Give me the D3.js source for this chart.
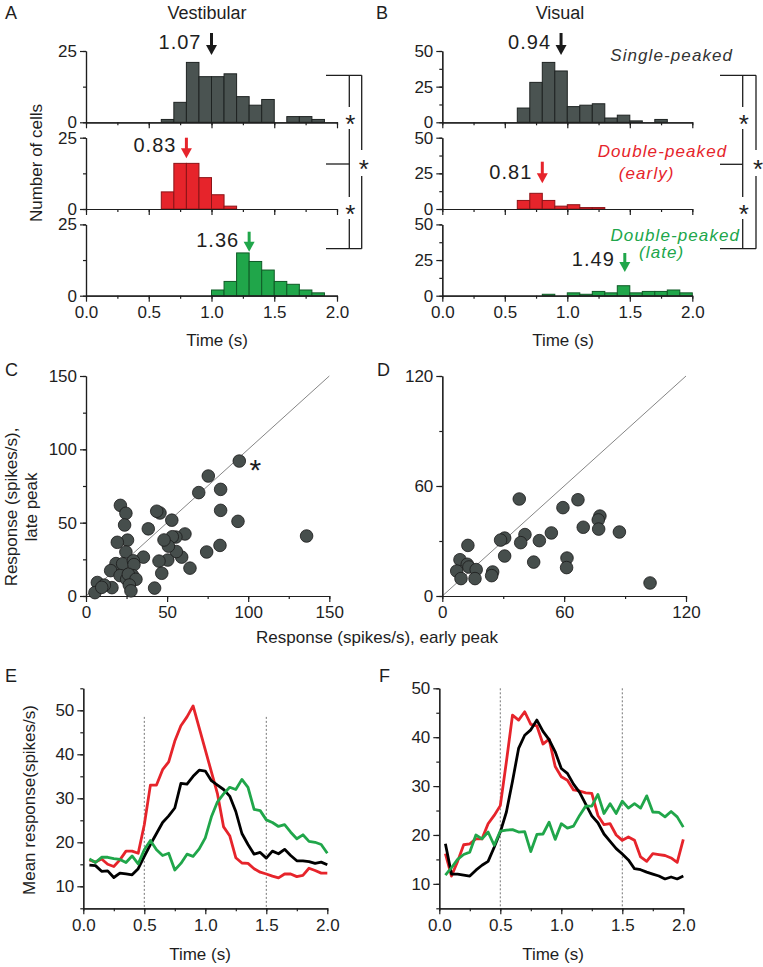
<!DOCTYPE html>
<html><head><meta charset="utf-8">
<script src="https://cdn.jsdelivr.net/npm/d3@7"></script>
<style>
body{margin:0;background:#fff;}
svg{display:block;}
</style></head><body>
<svg id="fig" width="763" height="967"></svg>
<script>
// ---------------- DATA ----------------
const binEdges = [0.0,0.1,0.2,0.3,0.4,0.5,0.6,0.7,0.8,0.9,1.0,1.1,1.2,1.3,1.4,1.5,1.6,1.7,1.8,1.9,2.0];
const vestSingle = [0,0,0,0,0,0,1,7,21,16,16,17,9,6,8,0,2,2,1,0];
const vestEarly  = [0,0,0,0,0,0,6,16,16,11,5,1,0,0,0,0,0,0,0,0];
const vestLate   = [0,0,0,0,0,0,0,0,0,0,2,5,15,12,9,5,4,2,1,0];
const visSingle  = [0,0,0,0,0,0,10,28,42,36,11,12,13,3,5,1,0,2,0,0];
const visEarly   = [0,0,0,0,0,0,6,11,6,2,3,1,1,0,0,0,0,0,0,0];
const visLate    = [0,0,0,0,0,0,0,0,1,0,2,1,3,2,7,2,3,3,4,2];
const vestMeanLabels = ["1.07","0.83","1.36"];
const visMeanLabels  = ["0.94","0.81","1.49"];
const vestArrowAt = [1.0, 0.8, 1.3];
const visArrowAt  = [0.95, 0.8, 1.46];
const histXTicks = [0,0.5,1.0,1.5,2.0];
const histXMinorTicks = [0,0.25,0.5,0.75,1.0,1.25,1.5,1.75,2.0];
const vestYTicks = [0,25];
const vestYMinorTicks = [0,12.5,25];
const visYTicks = [0,25,50];
const visYMinorTicks = [0,12.5,25,37.5,50];
const groupNames = ["Single-peaked","Double-peaked","(early)","Double-peaked","(late)"];

// scatter: [early peak, late peak]
const vestScatter = [[94.5,92],[75.4,81.8],[69.5,70.5],[83,72.7],[83,58.4],[93.7,50.9],[136,40.9],[82.6,34.5],[74.4,30],[64.1,19],[61,42.3],[59,26.5],[55.7,30.3],[55.4,40.2],[53.2,40.4],[52.9,51.7],[50.8,34],[50.4,24.5],[48.1,38.2],[45.6,56.6],[43.6,57.8],[45,23.8],[46.7,15.5],[42.3,5.4],[38.4,45.8],[35.4,26.5],[21.2,61.8],[24.6,56.4],[23.8,48.4],[25.6,38.1],[19.3,36.6],[24.6,30],[18.5,22.1],[22.6,22],[15.2,17.3],[21,13.9],[16,5.7],[29.2,24],[29.6,21.4],[25.1,11.4],[28.8,13.9],[26.1,14.8],[30.8,11.4],[26.7,7.5],[27.7,3.5],[7,9.2],[5.5,2.3],[11.3,7.4],[9.7,5.9]];
const visScatter = [[37.9,52.9],[66.8,52.5],[59.4,48.2],[77.6,43.6],[76.8,41.5],[69.4,37.5],[77,36.5],[87.2,34.9],[53.7,34.4],[40.7,33.5],[30.7,31.6],[28.7,30.5],[38.6,29.1],[47.8,30.2],[12.6,27.6],[30.7,21.8],[45,18.5],[61.4,20.7],[61.2,15.5],[8.7,19.8],[12.3,17.3],[13.1,15.8],[7.1,13.6],[9.2,9.5],[16.7,14.4],[16.1,9.5],[24.8,13.1],[24.3,11.1],[102.3,7.1]];
const vestScatterTicks = [0,50,100,150];
const vestScatterMinor = [0,25,50,75,100,125,150];
const visScatterTicks = [0,60,120];
const visScatterMinor = [0,30,60,90,120];

// time courses
const timePts = [0.05,0.10,0.15,0.20,0.25,0.30,0.35,0.40,0.45,0.50,0.55,0.60,0.65,0.70,0.75,0.80,0.85,0.90,0.95,1.00,1.05,1.10,1.15,1.20,1.25,1.30,1.35,1.40,1.45,1.50,1.55,1.60,1.65,1.70,1.75,1.80,1.85,1.90,1.95,2.00];
const vestRed   = [16,15.5,16.2,15,14.5,16,18,18,17.5,24,33,33,36.5,38.3,43,46.5,48.5,51,46,41,36,31,23.5,21.5,16.5,15.3,15.2,14,13.2,12.8,12.3,11.9,12.8,12.8,12.2,12.5,14.1,13.6,13,13];
const vestBlack = [14.8,14.7,13.4,13.5,12,13,12.8,12.6,14,16.8,19.5,22,24.5,26,27.8,33.4,33.2,35,36.4,36.2,34,33,32,30.5,27,22,19.5,17.3,17.7,16.4,18,17.4,18.4,17,15.8,15.8,15.6,15.2,15.5,14.9];
const vestGreen = [16.2,15.4,16.6,16.6,16.3,16.1,15.4,16.9,15.1,18.3,20.4,18.3,17,17.5,13.7,15.2,17.3,16.8,18.5,21,25.8,29.2,31,32.5,32,34.3,32.5,27.5,27.2,25.1,24.5,23.6,24,22.3,20.8,21.7,20.2,20,19.5,17.5];
const visRed    = [16.2,11.6,14.6,18,18.2,19.2,19.2,22.3,24,26,35,44.5,43.5,45.2,42.6,42.3,38.6,39.6,34,31.9,31.2,29.2,29,28.6,28.5,24,22.1,22.3,20,18.9,19.6,18.9,15.5,14.6,16.2,16,15.8,15.3,14.4,19.1];
const visBlack  = [18.2,12,12,11.8,11.6,12.8,13.8,14.6,17.5,20.6,24.7,31,37.7,40.4,41.5,43.5,41.2,39.5,37,33.6,32.6,30.4,28.7,26.3,23.9,22.5,20.2,18.7,17.2,16.1,14.9,13.1,12.9,12.4,12,11.6,11,11.4,11,11.6];
const visGreen  = [11.8,13.3,15,16,16.5,20,19.2,20.6,17.9,20.8,21,21.1,20.6,20.7,16.6,20.1,20.2,22.6,19.1,22.3,21.4,21.8,24,25.9,25.9,28.3,24.4,26.4,24.4,26.9,25.5,26.4,25.5,28,24.7,24.6,23.7,24.8,23.7,21.6];
const lineXTicks = [0,0.5,1.0,1.5,2.0];
const lineXMinor = [0,0.25,0.5,0.75,1.0,1.25,1.5,1.75,2.0];
const vestLineYTicks = [10,20,30,40,50];
const vestLineYMinor = [5,10,15,20,25,30,35,40,45,50,55];
const visLineYTicks = [10,20,30,40,50];
const visLineYMinor = [5,10,15,20,25,30,35,40,45,50];
const stimMarks = [0.5,1.5];

// ---------------- STYLE ----------------
const FONT = '"Liberation Sans", Arial, Helvetica, sans-serif';
const INK = "#1e1e1e";
const GRAY = "#4a5351", GRAY_S = "#1e2322";
const RED = "#e6242b", RED_S = "#8c1317";
const GREEN = "#20a64a", GREEN_S = "#0f5a26";
const svg = d3.select("#fig").attr("font-family", FONT);

function axis(gen, tx, ty, fs) {
  const a = svg.append("g").attr("transform", `translate(${tx},${ty})`).call(gen);
  a.attr("font-family", FONT).attr("font-size", fs || 17);
  a.selectAll(".domain,.tick line").attr("stroke", INK).attr("stroke-width", 1.2);
  a.selectAll("text").attr("fill", INK);
  return a;
}
function text(x, y, s, o = {}) {
  const t = svg.append("text").attr("x", x).attr("y", y).text(s)
    .attr("font-size", o.size || 18).attr("fill", o.fill || INK)
    .attr("text-anchor", o.anchor || "start");
  if (o.italic) t.attr("font-style", "italic");
  if (o.ls) t.attr("letter-spacing", o.ls);
  if (o.rot) t.attr("transform", `rotate(-90,${x},${y})`);
  return t;
}

// ---------------- HISTOGRAMS (A, B) ----------------
const HIST_BASE = [122.3, 209, 295.7];
const HIST_H = 71.3;
function histColumn(xr, yMax, yTicks, yMinor, counts, arrowAt, labels, arrowLayout) {
  const x = d3.scaleLinear().domain([0, 2]).range(xr);
  const fills = [[GRAY, GRAY_S, "#1a1a1a"], [RED, RED_S, RED], [GREEN, GREEN_S, GREEN]];
  counts.forEach((c, i) => {
    const base = HIST_BASE[i];
    const y = d3.scaleLinear().domain([0, yMax]).range([base, base - HIST_H]);
    const bins = c.map((v, j) => ({ v, x0: binEdges[j], x1: binEdges[j + 1] })).filter(d => d.v > 0);
    svg.append("g").selectAll("rect").data(bins).join("rect")
      .attr("x", d => x(d.x0)).attr("width", d => x(d.x1) - x(d.x0))
      .attr("y", d => y(d.v)).attr("height", d => base - y(d.v))
      .attr("fill", fills[i][0]).attr("stroke", fills[i][1]).attr("stroke-width", 1);
    axis(d3.axisBottom(x).tickValues(histXMinorTicks).tickSize(3).tickFormat("").tickSizeOuter(0), 0, base);
    axis(d3.axisBottom(x).tickValues(histXTicks).tickSize(6).tickPadding(4)
      .tickFormat(i === 2 ? d3.format(".1f") : "").tickSizeOuter(0), 0, base);
    axis(d3.axisLeft(y).tickValues(yMinor).tickSize(3).tickFormat("").tickSizeOuter(0), xr[0], 0);
    axis(d3.axisLeft(y).tickValues(yTicks).tickSize(6).tickPadding(3).tickFormat(d3.format("d")).tickSizeOuter(0), xr[0], 0);
    // arrow
    const L = arrowLayout[i];
    const ax = x(arrowAt[i]);
    const col = fills[i][2];
    svg.append("line").attr("x1", ax).attr("x2", ax).attr("y1", L.top).attr("y2", L.tip - 8)
      .attr("stroke", col).attr("stroke-width", 3);
    svg.append("path").attr("d", `M${ax - 5.5},${L.tip - 10}L${ax + 5.5},${L.tip - 10}L${ax},${L.tip}Z`).attr("fill", col);
    text(ax - 10, L.lab, labels[i], { size: 20, anchor: "end", ls: 1 });
  });
}
histColumn([86, 337], 25, vestYTicks, vestYMinorTicks, [vestSingle, vestEarly, vestLate], vestArrowAt, vestMeanLabels,
  [{ top: 33, tip: 55, lab: 49 }, { top: 137.7, tip: 158.3, lab: 152 }, { top: 231.7, tip: 251.7, lab: 246.5 }]);
histColumn([442.3, 692.3], 50, visYTicks, visYMinorTicks, [visSingle, visEarly, visLate], visArrowAt, visMeanLabels,
  [{ top: 33, tip: 55, lab: 49 }, { top: 161.7, tip: 183.3, lab: 179 }, { top: 253, tip: 272, lab: 265.5 }]);

// significance brackets
function bracket(xl, xi, xo, yt, ym, yb, starsInner, starOuter) {
  const g = svg.append("g").attr("stroke", INK).attr("stroke-width", 1.3).attr("fill", "none");
  g.append("line").attr("x1", xl).attr("x2", xo).attr("y1", yt).attr("y2", yt);
  g.append("line").attr("x1", xl).attr("x2", xi).attr("y1", ym).attr("y2", ym);
  g.append("line").attr("x1", xl).attr("x2", xo).attr("y1", yb).attr("y2", yb);
  const seg = (x, a, b) => g.append("line").attr("x1", x).attr("x2", x).attr("y1", a).attr("y2", b);
  seg(xi, yt, starsInner[0] - 11); seg(xi, starsInner[0] + 11, starsInner[1] - 11); seg(xi, starsInner[1] + 11, yb);
  seg(xo, yt, starOuter - 13); seg(xo, starOuter + 13, yb);
  const star = (x, y) => text(x, y + 14.5, "*", { size: 26, anchor: "middle" });
  star(xi + 1, starsInner[0]); star(xi + 1, starsInner[1]); star(xo + 2, starOuter);
}
bracket(326, 349.3, 361.7, 75.3, 164, 248.7, [118, 208], 163);
bracket(720, 742.7, 756, 75.3, 164.3, 248.7, [118, 208], 163);

text(671.7, 61, groupNames[0], { size: 17, italic: true, anchor: "middle", fill: "#333", ls: 1.1 });
text(662.5, 157, groupNames[1], { size: 17, italic: true, anchor: "middle", fill: RED, ls: 1.1 });
text(646.7, 179, groupNames[2], { size: 17, italic: true, anchor: "middle", fill: RED, ls: 1.1 });
text(675.3, 240.7, groupNames[3], { size: 17, italic: true, anchor: "middle", fill: GREEN, ls: 1.1 });
text(661.7, 258, groupNames[4], { size: 17, italic: true, anchor: "middle", fill: GREEN, ls: 1.1 });

text(5, 19, "A"); text(376, 19, "B");
text(207, 19, "Vestibular", { anchor: "middle" });
text(560, 19, "Visual", { anchor: "middle" });
text(42, 163, "Number of cells", { anchor: "middle", rot: true, size: 17 });
text(217, 346, "Time (s)", { anchor: "middle", size: 17 });
text(563, 346, "Time (s)", { anchor: "middle", size: 17 });

// ---------------- SCATTER (C, D) ----------------
function scatter(xr, max, data, ticks, minor) {
  const x = d3.scaleLinear().domain([0, max]).range(xr);
  const y = d3.scaleLinear().domain([0, max]).range([596, 376]);
  svg.append("line").attr("x1", x(0)).attr("y1", y(0)).attr("x2", x(max)).attr("y2", y(max))
    .attr("stroke", "#777").attr("stroke-width", 0.9);
  axis(d3.axisBottom(x).tickValues(minor).tickSize(3).tickFormat("").tickSizeOuter(0), 0, 596);
  axis(d3.axisBottom(x).tickValues(ticks).tickSize(6).tickPadding(4).tickFormat(d3.format("d")).tickSizeOuter(0), 0, 596);
  axis(d3.axisLeft(y).tickValues(minor).tickSize(3).tickFormat("").tickSizeOuter(0), xr[0], 0);
  axis(d3.axisLeft(y).tickValues(ticks).tickSize(6).tickPadding(3).tickFormat(d3.format("d")).tickSizeOuter(0), xr[0], 0);
  svg.append("g").selectAll("circle").data(data).join("circle")
    .attr("cx", d => x(d[0])).attr("cy", d => y(d[1])).attr("r", 6.3)
    .attr("fill", "#464e4c").attr("stroke", "#1a1a1a").attr("stroke-width", 0.8);
  return { x, y };
}
const sc = scatter([86, 329.3], 150, vestScatter, vestScatterTicks, vestScatterMinor);
scatter([442.3, 686], 120, visScatter, visScatterTicks, visScatterMinor);
text(sc.x(vestScatter[0][0]) + 16, sc.y(vestScatter[0][1]) + 19, "*", { size: 30, anchor: "middle" });
text(5, 376, "C"); text(377, 376, "D");
text(17, 507, "Response (spikes/s),", { anchor: "middle", rot: true, size: 17 });
text(37, 507, "late peak", { anchor: "middle", rot: true, size: 17 });
text(377, 643, "Response (spikes/s), early peak", { anchor: "middle", size: 17 });

// ---------------- TIME COURSES (E, F) ----------------
function linePanel(xr, ydom, series, yTicks, yMinor, dotTop) {
  const x = d3.scaleLinear().domain([0, 2]).range(xr);
  const y = d3.scaleLinear().domain(ydom).range([908.3, 688.3]);
  stimMarks.forEach(t => svg.append("line").attr("x1", x(t)).attr("x2", x(t))
    .attr("y1", y(dotTop)).attr("y2", y(ydom[0])).attr("stroke", "#666").attr("stroke-width", 0.9)
    .attr("stroke-dasharray", "2,2"));
  axis(d3.axisBottom(x).tickValues(lineXMinor).tickSize(3).tickFormat("").tickSizeOuter(0), 0, 908.3);
  axis(d3.axisBottom(x).tickValues(lineXTicks).tickSize(6).tickPadding(5).tickFormat(d3.format(".1f")).tickSizeOuter(0), 0, 908.3);
  axis(d3.axisLeft(y).tickValues(yMinor).tickSize(3).tickFormat("").tickSizeOuter(0), xr[0], 0);
  axis(d3.axisLeft(y).tickValues(yTicks).tickSize(6).tickPadding(3).tickFormat(d3.format("d")).tickSizeOuter(0), xr[0], 0);
  const line = d3.line().x((d, i) => x(timePts[i])).y(d => y(d));
  series.forEach(s => svg.append("path").datum(s.v).attr("d", line).attr("fill", "none")
    .attr("stroke", s.c).attr("stroke-width", 2.8).attr("stroke-linejoin", "round"));
}
linePanel([83.3, 327.3], [5, 55], [{ v: vestRed, c: RED }, { v: vestBlack, c: "#000" }, { v: vestGreen, c: GREEN }],
  vestLineYTicks, vestLineYMinor, 48.5);
linePanel([439.3, 683.3], [5, 50], [{ v: visRed, c: RED }, { v: visBlack, c: "#000" }, { v: visGreen, c: GREEN }],
  visLineYTicks, visLineYMinor, 50);
text(5, 682, "E"); text(379, 682, "F");
text(35, 800, "Mean response(spikes/s)", { anchor: "middle", rot: true, size: 17 });
text(200, 960, "Time (s)", { anchor: "middle", size: 17 });
text(553, 960, "Time (s)", { anchor: "middle", size: 17 });
</script>
</body></html>
